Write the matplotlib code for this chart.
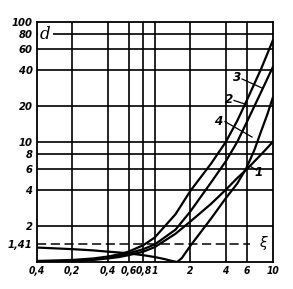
import matplotlib
matplotlib.use('Agg')
import matplotlib.pyplot as plt

# ---- data ----
xi = [0.1, 0.2, 0.3, 0.4, 0.5, 0.6, 0.8, 1, 1.5, 2, 3, 4, 5, 6, 8, 10]
d_curve1 = [1.0, 1.02, 1.04, 1.07, 1.1, 1.14, 1.22, 1.33, 1.72, 2.17, 3.05, 4.0, 5.0, 5.9, 7.9, 10.0]
d_curve2 = [1.02, 1.04, 1.07, 1.11, 1.16, 1.22, 1.38, 1.6, 2.5, 3.9, 6.6, 10.0, 15.0, 22.0, 41.0, 70.0]
d_curve3 = [1.01, 1.02, 1.05, 1.09, 1.13, 1.18, 1.28, 1.4, 1.86, 2.63, 4.6, 6.9, 10.0, 14.5, 26.3, 42.0]
xi4 = [0.1, 0.2, 0.3, 0.4, 0.5, 0.6, 0.8, 1, 1.2, 1.4, 1.55, 1.7, 2, 3, 4, 5, 6, 7, 8, 9, 10]
d_curve4 = [1.32, 1.28, 1.25, 1.22, 1.2, 1.18, 1.14, 1.1, 1.06, 1.02, 1.0, 1.08, 1.36, 2.3, 3.4,
            4.5, 6.1, 8.6, 12.4, 17.0, 23.3]
level_ref = 1.41

x_ticks = [0.1, 0.2, 0.4, 0.6, 0.8, 1, 2, 4, 6, 10]
x_tick_labels = ['0,4', '0,2', '0,4', '0,6', '0,8', '1', '2', '4', '6', '10']
y_ticks = [1.41, 2, 4, 6, 8, 10, 20, 40, 60, 80, 100]
y_tick_labels = ['1,41', '2', '4', '6', '8', '10', '20', '40', '60', '80', '100']

plt.rcParams['font.family'] = ['DejaVu Sans']

fig = plt.figure(figsize=(2.93, 2.89), dpi=100)
ax = fig.add_axes([0.1253, 0.0934, 0.8055, 0.8304])
ax.set_xscale('log')
ax.set_yscale('log')
ax.set_xlim(0.1, 10)
ax.set_ylim(1, 100)

# grid
for gx in [0.2, 0.4, 0.6, 0.8, 1, 2, 4, 6]:
    ax.axvline(gx, color='black', lw=1.2, zorder=1)
for gy in [2, 4, 6, 8, 10, 20, 40, 60, 80]:
    ax.axhline(gy, color='black', lw=1.2, zorder=1)

ax.plot([0.1, 6.4], [level_ref, level_ref], color='black', lw=1.1,
        dashes=(6, 3), zorder=2)

lw = 1.6
ax.plot(xi, d_curve1, color='black', lw=lw, zorder=3)
ax.plot(xi, d_curve2, color='black', lw=lw, zorder=3)
ax.plot(xi, d_curve3, color='black', lw=lw, zorder=3)
ax.plot(xi4, d_curve4, color='black', lw=lw, zorder=3)

lab_kw = dict(fontsize=9.5, fontstyle='italic', fontweight='bold', color='black',
              ha='center', va='center', zorder=5, fontstretch='condensed')
# leaders and labels
ax.plot([5.5, 8.1], [33.5, 28.2], color='black', lw=0.9, zorder=4)
ax.text(4.95, 34.5, '3', **lab_kw)
ax.plot([4.7, 5.66], [22.2, 20.9], color='black', lw=0.9, zorder=4)
ax.text(4.26, 22.4, '2', **lab_kw)
ax.plot([3.94, 6.68], [14.8, 11.0], color='black', lw=0.9, zorder=4)
ax.text(3.54, 14.8, '4', **lab_kw)
ax.plot([6.55, 7.31], [6.22, 5.84], color='black', lw=0.9, zorder=4)
ax.text(7.52, 5.6, '1', **lab_kw)

ax.text(8.22, 1.45, 'ξ', fontsize=10, fontstyle='italic', color='black',
        ha='center', va='center', zorder=5,
        bbox=dict(facecolor='white', edgecolor='none', pad=0.5))
ax.text(0.118, 78, 'd', fontsize=12, fontstyle='italic', family='DejaVu Serif',
        ha='center', va='center', zorder=5,
        bbox=dict(facecolor='white', edgecolor='none', pad=1.5))

ax.set_xticks(x_ticks)
ax.set_xticklabels(x_tick_labels)
ax.set_yticks(y_ticks)
ax.set_yticklabels(y_tick_labels)
ax.minorticks_off()
ax.tick_params(length=0, pad=3)
for t in ax.get_yticklabels():
    t.set_fontsize(8)
    t.set_fontstyle('italic')
    t.set_fontweight('bold')
    t.set_fontstretch('condensed')
for t in ax.get_xticklabels():
    t.set_fontsize(7.4)
    t.set_fontstyle('italic')
    t.set_fontweight('bold')
    t.set_fontstretch('condensed')

for s in ax.spines.values():
    s.set_linewidth(1.3)
    s.set_color('black')

fig.savefig('out.png', dpi=100, facecolor='white')
